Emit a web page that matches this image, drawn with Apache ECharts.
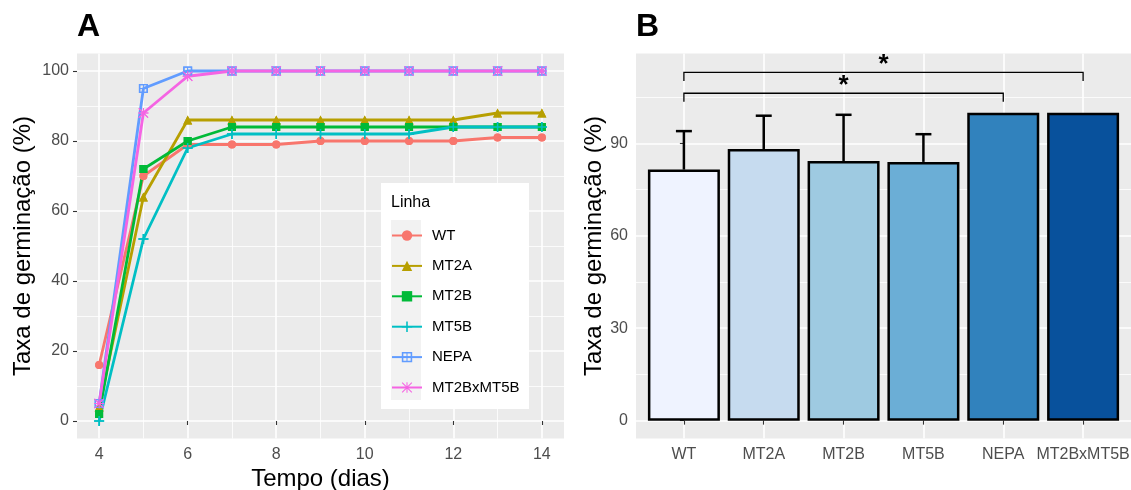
<!DOCTYPE html>
<html>
<head>
<meta charset="utf-8">
<script src="https://cdn.jsdelivr.net/npm/echarts@6/dist/echarts.min.js"></script>
<style>
  html, body { margin: 0; padding: 0; background: #fff; }
  #chart { width: 1131px; height: 490px; }
</style>
</head>
<body>
<div id="chart"></div>
<script>
// panel A: germination over time
const days = [4, 5, 6, 7, 8, 9, 10, 11, 12, 13, 14];
const lineNames = ['WT', 'MT2A', 'MT2B', 'MT5B', 'NEPA', 'MT2BxMT5B'];
const wtValues = [16, 70, 79, 79, 79, 80, 80, 80, 80, 81, 81];
const mt2aValues = [4, 64, 86, 86, 86, 86, 86, 86, 86, 88, 88];
const mt2bValues = [2, 72, 80, 84, 84, 84, 84, 84, 84, 84, 84];
const mt5bValues = [0, 52, 78, 82, 82, 82, 82, 82, 84, 84, 84];
const nepaValues = [5, 95, 100, 100, 100, 100, 100, 100, 100, 100, 100];
const crossValues = [5, 88, 98.5, 100, 100, 100, 100, 100, 100, 100, 100];
const xTicksA = [4, 6, 8, 10, 12, 14];
const xMinorA = [5, 7, 9, 11, 13];
const yTicksA = [0, 20, 40, 60, 80, 100];
const yMinorA = [10, 30, 50, 70, 90];

// panel B: final germination
const barMeans = [81.5, 88.2, 84.3, 84, 100, 100];
const barSd = [12.5, 10.8, 15, 9, 0, 0];
const yTicksB = [0, 30, 60, 90];
const yMinorB = [15, 45, 75, 105];
// [from, to, height, label]
const brackets = [[0, 4, 106.3, '*'], [0, 5, 113.1, '*']];

const lineColors = ['#F8766D', '#B79F00', '#00BA38', '#00BFC4', '#619CFF', '#F564E3'];
const barColors = ['#EFF3FF', '#C6DBEF', '#9ECAE1', '#6BAED6', '#3182BD', '#08519C'];
const symbols = [
  'circle',
  'triangle',
  'rect',
  'path://M8.5,0H11.5V20H8.5ZM0,8.5H20V11.5H0Z',
  'path://M0,0H20V20H0ZM3,3V17H17V3ZM9,3H11V17H9ZM3,9H17V11H3Z',
  'path://M9,0H11V20H9ZM0,9H20V11H0ZM1.4,0L20,18.6L18.6,20L0,1.4ZM18.6,0L20,1.4L1.4,20L0,18.6Z'
];
const symbolSizes = [8, 9, 8, 10, 9, 10];
const lineData = [wtValues, mt2aValues, mt2bValues, mt5bValues, nepaValues, crossValues];

const FONT = 'Liberation Sans';
const chart = echarts.init(document.getElementById('chart'));

function hiddenAxis(gridIndex, pos, min, max, ticks, width) {
  return {
    type: 'value', gridIndex: gridIndex, position: pos, min: min, max: max,
    axisLine: { show: false },
    axisTick: { show: false, customValues: ticks },
    axisLabel: { show: false, customValues: ticks },
    splitLine: { show: true, lineStyle: { color: '#fff', width: width } }
  };
}

function mainAxis(gridIndex, pos, min, max, ticks, extra) {
  return Object.assign({
    type: 'value', gridIndex: gridIndex, position: pos, min: min, max: max,
    axisLine: { show: false },
    axisTick: { show: true, length: 4, customValues: ticks, lineStyle: { color: '#333', width: 1.1 } },
    axisLabel: { customValues: ticks, color: '#4D4D4D', fontSize: 16, fontFamily: FONT, margin: 8 },
    splitLine: { show: true, lineStyle: { color: '#fff', width: 1.6 } },
    nameTextStyle: { color: '#000', fontSize: 24, fontFamily: FONT }
  }, extra);
}

const lineSeries = lineNames.map((name, i) => ({
  name: name,
  type: 'line',
  xAxisIndex: 0,
  yAxisIndex: 0,
  data: days.map((d, j) => [d, lineData[i][j]]),
  symbol: symbols[i],
  symbolSize: symbolSizes[i],
  color: lineColors[i],
  lineStyle: { width: 2.8, color: lineColors[i] },
  itemStyle: { color: lineColors[i] },
  z: 2
}));

// points drawn above every line, like geom_point after geom_line
const pointSeries = lineNames.map((name, i) => ({
  name: name + ' points',
  type: 'scatter',
  xAxisIndex: 0,
  yAxisIndex: 0,
  data: days.map((d, j) => [d, lineData[i][j]]),
  symbol: symbols[i],
  symbolSize: symbolSizes[i],
  itemStyle: { color: lineColors[i], opacity: 1 },
  z: 3
}));

const option = {
  animation: false,
  title: [
    { text: 'A', left: 77, top: 11, padding: 0, textStyle: { fontSize: 32, fontWeight: 'bold', fontFamily: FONT, color: '#000' } },
    { text: 'B', left: 636, top: 11, padding: 0, textStyle: { fontSize: 32, fontWeight: 'bold', fontFamily: FONT, color: '#000' } }
  ],
  grid: [
    { left: 77, top: 53.5, width: 487, height: 385, outerBoundsMode: 'none', containLabel: false,
      show: true, backgroundColor: '#EBEBEB', borderWidth: 0 },
    { left: 636, top: 53.5, width: 495, height: 385, outerBoundsMode: 'none', containLabel: false,
      show: true, backgroundColor: '#EBEBEB', borderWidth: 0 }
  ],
  xAxis: [
    mainAxis(0, 'bottom', 3.5, 14.5, xTicksA, {
      name: 'Tempo (dias)', nameLocation: 'middle', nameGap: 28
    }),
    hiddenAxis(0, 'top', 3.5, 14.5, xMinorA, 0.8),
    mainAxis(1, 'bottom', -0.6, 5.6, [0, 1, 2, 3, 4, 5], {
      axisLabel: {
        customValues: [0, 1, 2, 3, 4, 5], color: '#4D4D4D', fontSize: 16, fontFamily: FONT, margin: 8,
        formatter: v => lineNames[Math.round(v)]
      }
    })
  ],
  yAxis: [
    mainAxis(0, 'left', -5, 105, yTicksA, {
      name: 'Taxa de germinação (%)', nameLocation: 'middle', nameGap: 42
    }),
    hiddenAxis(0, 'right', -5, 105, yMinorA, 0.8),
    mainAxis(1, 'left', -5.8, 119.2, yTicksB, {
      name: 'Taxa de germinação (%)', nameLocation: 'middle', nameGap: 30
    }),
    hiddenAxis(1, 'right', -5.8, 119.2, yMinorB, 0.8)
  ],
  legend: {
    data: lineNames,
    orient: 'vertical',
    left: 391,
    top: 228,
    padding: 0,
    itemWidth: 30,
    itemHeight: 13,
    itemGap: 15.4,
    textStyle: { fontSize: 15, fontFamily: FONT, color: '#000', padding: [0, 0, 0, 5] },
    z: 20
  },
  graphic: [
    { type: 'rect', z: 15, shape: { x: 381, y: 183, width: 148, height: 226 }, style: { fill: '#fff' } },
    { type: 'rect', z: 16, shape: { x: 391, y: 220, width: 30, height: 180 }, style: { fill: '#F2F2F2' } },
    { type: 'text', z: 16, x: 391, y: 203, style: { text: 'Linha', fontSize: 16, fontFamily: FONT, fill: '#000', verticalAlign: 'middle' } }
  ],
  series: lineSeries.concat(pointSeries, [
    {
      name: 'bars',
      type: 'bar',
      xAxisIndex: 2,
      yAxisIndex: 2,
      barWidth: 72,
      data: barMeans.map((m, i) => ({
        value: [i, m],
        itemStyle: { color: barColors[i], borderColor: '#000', borderWidth: 2.5 }
      })),
      z: 3
    },
    {
      name: 'errors',
      type: 'custom',
      xAxisIndex: 2,
      yAxisIndex: 2,
      data: barMeans.map((m, i) => [i, m, barSd[i]]),
      renderItem: (params, api) => {
        const sd = api.value(2);
        if (!sd) return null;
        const base = api.coord([api.value(0), api.value(1)]);
        const top = api.coord([api.value(0), api.value(1) + sd]);
        const half = api.size([0.1, 0])[0];
        const style = { stroke: '#000', lineWidth: 2.5 };
        return {
          type: 'group',
          children: [
            { type: 'line', shape: { x1: base[0], y1: base[1], x2: top[0], y2: top[1] }, style: style },
            { type: 'line', shape: { x1: top[0] - half, y1: top[1], x2: top[0] + half, y2: top[1] }, style: style }
          ]
        };
      },
      z: 2
    },
    {
      name: 'brackets',
      type: 'custom',
      xAxisIndex: 2,
      yAxisIndex: 2,
      data: brackets,
      renderItem: (params, api) => {
        const x1 = api.value(0), x2 = api.value(1), h = api.value(2);
        const a = api.coord([x1, h]);
        const b = api.coord([x2, h]);
        const drop = api.coord([x1, h - 2.8])[1];
        const style = { stroke: '#000', lineWidth: 1.3, fill: null };
        return {
          type: 'group',
          children: [
            { type: 'polyline', shape: { points: [[a[0], drop], a, b, [b[0], drop]] }, style: style },
            {
              type: 'text', x: (a[0] + b[0]) / 2, y: a[1] - 7,
              style: { text: brackets[params.dataIndex][3], fontSize: 26, fontWeight: 'bold', fontFamily: FONT, fill: '#000', align: 'center', verticalAlign: 'middle' }
            }
          ]
        };
      },
      z: 4
    }
  ])
};

chart.setOption(option);
</script>
</body>
</html>
